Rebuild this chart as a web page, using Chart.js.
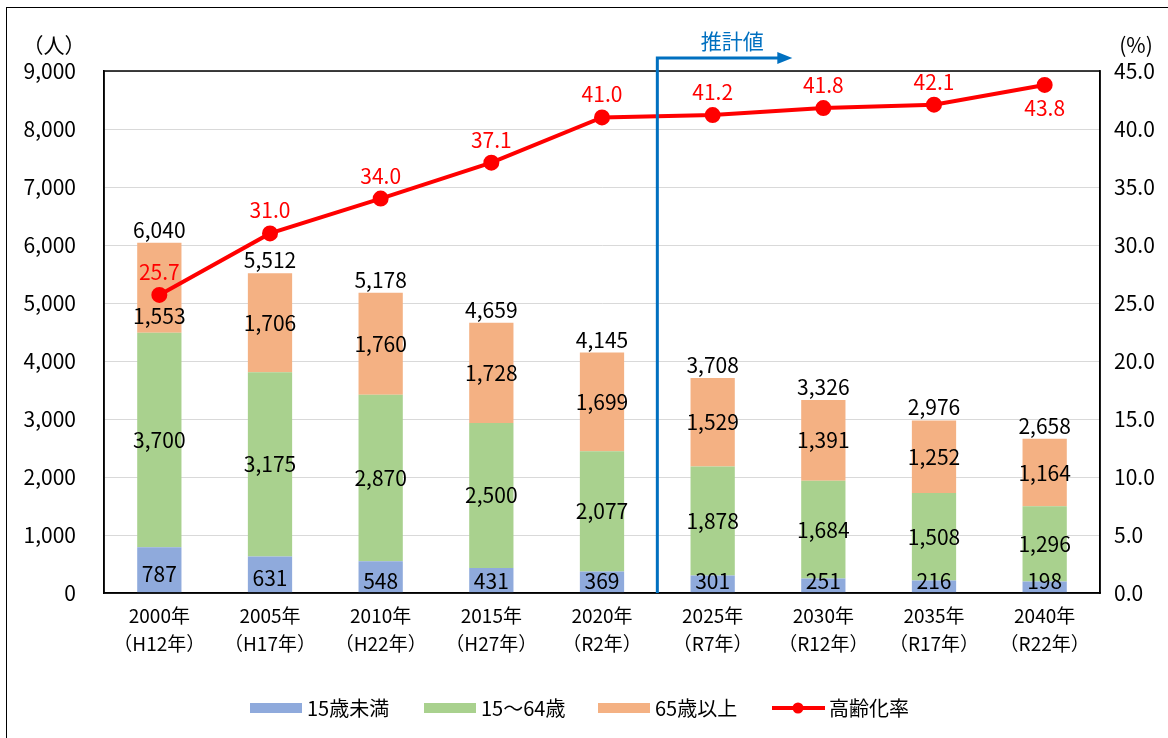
<!DOCTYPE html>
<html lang="ja">
<head>
<meta charset="utf-8">
<title>人口推移と高齢化率</title>
<script src="https://cdn.jsdelivr.net/npm/chart.js@4.4.1/dist/chart.umd.min.js"></script>
<style>
    html, body { margin: 0; padding: 0; background: #fff; overflow: hidden; }
    #wrap { position: relative; width: 1168px; height: 738px; }
    #frame { position: absolute; left: 6px; top: 7px; width: 1200px; height: 800px; border: 1.5px solid #000; box-sizing: border-box; }
    canvas { position: absolute; left: 0; top: 0; }
</style>
</head>
<body>
<div id="wrap">
    <div id="frame"></div>
    <canvas id="popChart" width="1168" height="738"></canvas>
</div>
<script>
// =============================
// 人口推移 (年齢3区分) と高齢化率
// =============================

const YEARS = ["2000年", "2005年", "2010年", "2015年", "2020年", "2025年", "2030年", "2035年", "2040年"];
const ERAS = ["（H12年）", "（H17年）", "（H22年）", "（H27年）", "（R2年）", "（R7年）", "（R12年）", "（R17年）", "（R22年）"];

const UNDER_15 = [787, 631, 548, 431, 369, 301, 251, 216, 198];
const AGE_15_64 = [3700, 3175, 2870, 2500, 2077, 1878, 1684, 1508, 1296];
const OVER_65 = [1553, 1706, 1760, 1728, 1699, 1529, 1391, 1252, 1164];
const TOTALS = [6040, 5512, 5178, 4659, 4145, 3708, 3326, 2976, 2658];
const AGING_RATE = [25.7, 31.0, 34.0, 37.1, 41.0, 41.2, 41.8, 42.1, 43.8];

const LEFT_TICKS_MAX = 9000;
const RIGHT_TICKS_MAX = 45;
const FIRST_ESTIMATE = 5; // index of 2025

const FONT = '"Noto Sans CJK JP", "Noto Sans", sans-serif';
const BLUE = "#8faadc";
const GREEN = "#a9d18e";
const ORANGE = "#f4b183";
const RED = "#ff0000";
const PROJ = "#0070c0";

const fmt = (v) => Number(v).toLocaleString("en-US");

Chart.defaults.font.family = FONT;
Chart.defaults.color = "#000";

// ============================================
// labels, frame, projection marker, legend
// ============================================
const overlayPlugin = {
    id: "overlay",
    afterDatasetsDraw(chart) {
        const ctx = chart.ctx;
        const area = chart.chartArea;
        ctx.save();

        // plot frame
        ctx.strokeStyle = "#000";
        ctx.lineWidth = 1.5;
        ctx.strokeRect(area.left, area.top, area.right - area.left, area.bottom - area.top);

        // segment labels
        ctx.font = "21px " + FONT;
        ctx.fillStyle = "#000";
        ctx.textAlign = "center";
        ctx.textBaseline = "middle";
        [0, 1, 2].forEach((di) => {
            const meta = chart.getDatasetMeta(di);
            meta.data.forEach((bar, i) => {
                let y = (bar.y + bar.base) / 2;
                if (di === 0) y = Math.min(y + 4, bar.base - 11);
                if (di === 2 && i === 0) y += 28; // moved clear of 25.7
                ctx.fillText(fmt(chart.data.datasets[di].data[i]), bar.x, y);
            });
        });

        // totals above bars
        const topMeta = chart.getDatasetMeta(2);
        topMeta.data.forEach((bar, i) => {
            ctx.fillText(fmt(TOTALS[i]), bar.x, bar.y - 13);
        });

        // aging rate labels
        ctx.fillStyle = RED;
        const lineMeta = chart.getDatasetMeta(3);
        lineMeta.data.forEach((pt, i) => {
            const below = i === AGING_RATE.length - 1;
            ctx.fillText(AGING_RATE[i].toFixed(1), pt.x, below ? pt.y + 23 : pt.y - 23);
        });

        // projection marker
        const xs = chart.scales.x;
        const px = (xs.getPixelForValue(FIRST_ESTIMATE - 1) + xs.getPixelForValue(FIRST_ESTIMATE)) / 2;
        const topY = area.top - 13;
        ctx.strokeStyle = PROJ;
        ctx.lineWidth = 3;
        ctx.beginPath();
        ctx.moveTo(px, area.bottom);
        ctx.lineTo(px, topY);
        ctx.lineTo(px + 122, topY);
        ctx.stroke();
        ctx.fillStyle = PROJ;
        ctx.beginPath();
        ctx.moveTo(px + 120, topY - 6);
        ctx.lineTo(px + 135, topY);
        ctx.lineTo(px + 120, topY + 6);
        ctx.closePath();
        ctx.fill();
        ctx.font = "21px " + FONT;
        ctx.fillText("推計値", px + 75, topY - 17);

        // axis unit captions
        ctx.fillStyle = "#000";
        ctx.fillText("（人）", 54, 45);
        ctx.fillText("(%)", 1136, 45);

        // legend
        const ly = 708;
        ctx.font = "20px " + FONT;
        ctx.textAlign = "left";
        const items = [
            { x: 250, color: BLUE, text: chart.data.datasets[0].label },
            { x: 424, color: GREEN, text: chart.data.datasets[1].label },
            { x: 598, color: ORANGE, text: chart.data.datasets[2].label },
        ];
        items.forEach((it) => {
            ctx.fillStyle = it.color;
            ctx.fillRect(it.x, ly - 5, 52, 10);
            ctx.fillStyle = "#000";
            ctx.fillText(it.text, it.x + 57, ly);
        });
        ctx.strokeStyle = RED;
        ctx.lineWidth = 4;
        ctx.beginPath();
        ctx.moveTo(772, ly);
        ctx.lineTo(825, ly);
        ctx.stroke();
        ctx.fillStyle = RED;
        ctx.beginPath();
        ctx.arc(798, ly, 5.5, 0, Math.PI * 2);
        ctx.fill();
        ctx.fillStyle = "#000";
        ctx.fillText(chart.data.datasets[3].label, 829, ly);

        ctx.restore();
    },
};

const ctx = document.getElementById("popChart").getContext("2d");
new Chart(ctx, {
    type: "bar",
    data: {
        labels: YEARS.map((y, i) => [y, ERAS[i]]),
        datasets: [
            { label: "15歳未満", data: UNDER_15, backgroundColor: BLUE, stack: "pop", order: 1, yAxisID: "y" },
            { label: "15～64歳", data: AGE_15_64, backgroundColor: GREEN, stack: "pop", order: 1, yAxisID: "y" },
            { label: "65歳以上", data: OVER_65, backgroundColor: ORANGE, stack: "pop", order: 1, yAxisID: "y" },
            {
                type: "line",
                label: "高齢化率",
                data: AGING_RATE,
                borderColor: RED,
                backgroundColor: RED,
                borderWidth: 4,
                pointRadius: 6,
                pointHoverRadius: 6,
                tension: 0,
                order: 0,
                yAxisID: "y1",
            },
        ],
    },
    options: {
        responsive: false,
        animation: false,
        layout: { padding: { top: 71, bottom: 60, left: 0, right: 0 } },
        datasets: { bar: { barPercentage: 0.4, categoryPercentage: 1, borderWidth: 0 } },
        scales: {
            x: {
                stacked: true,
                grid: { display: false, drawTicks: false },
                border: { display: true, color: "#000", width: 1.5 },
                ticks: { font: { size: 19, lineHeight: 1.45 }, padding: 9, maxRotation: 0, autoSkip: false },
                afterFit(scale) { scale.height = 85; },
            },
            y: {
                stacked: true,
                min: 0,
                max: LEFT_TICKS_MAX,
                ticks: { stepSize: 1000, font: { size: 21 }, padding: 28, callback: (v) => fmt(v) },
                grid: { color: "#d9d9d9", lineWidth: 1, drawTicks: false },
                border: { display: true, color: "#000", width: 1.5 },
                afterFit(scale) { scale.width = 104; },
            },
            y1: {
                position: "right",
                min: 0,
                max: RIGHT_TICKS_MAX,
                ticks: { stepSize: 5, font: { size: 21 }, padding: 14, callback: (v) => v.toFixed(1) },
                grid: { display: false, drawTicks: false },
                border: { display: true, color: "#000", width: 1.5 },
                afterFit(scale) { scale.width = 68; },
            },
        },
        plugins: {
            legend: { display: false },
            tooltip: { enabled: false },
        },
    },
    plugins: [overlayPlugin],
});
</script>
</body>
</html>
